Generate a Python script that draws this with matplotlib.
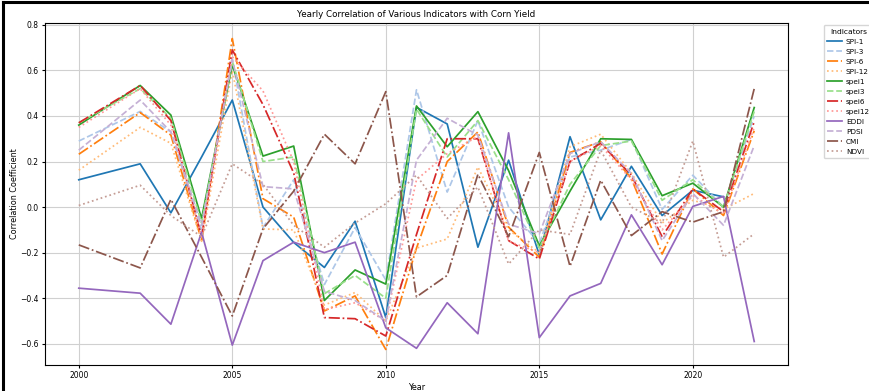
import numpy as np
import matplotlib
matplotlib.use("Agg")
import matplotlib.pyplot as plt
from matplotlib.lines import Line2D

nan = np.nan

# anni (il 2001 manca)
years = [2000, 2002, 2003, 2004, 2005, 2006, 2007, 2008, 2009, 2010, 2011,
         2012, 2013, 2014, 2015, 2016, 2017, 2018, 2019, 2020, 2021, 2022]

spi1 = [0.12, 0.19, -0.025, 0.22, 0.47, 0.0, -0.155, -0.265, -0.062, -0.485, 0.438,
        0.365, -0.176, 0.206, -0.21, 0.309, -0.056, 0.179, -0.037, 0.074, 0.045, nan]
spi3 = [0.29, 0.42, 0.33, -0.1, 0.65, -0.09, 0.12, -0.34, -0.09, -0.32, 0.515,
        0.066, 0.38, 0.0, -0.16, 0.22, 0.25, 0.297, -0.01, 0.14, 0.0, 0.40]
spi6 = [0.232, 0.415, 0.316, -0.147, 0.74, 0.037, -0.044, -0.456, -0.39, -0.625, -0.18,
        0.2, 0.33, -0.088, -0.22, 0.24, 0.287, 0.125, -0.206, 0.08, -0.037, 0.335]
spi12 = [0.162, 0.35, 0.28, -0.15, 0.6, -0.096, -0.1, -0.43, -0.375, -0.5, -0.18,
         -0.14, 0.176, -0.1, -0.2, 0.265, 0.32, 0.15, -0.07, 0.03, -0.01, 0.06]
spei1 = [0.36, 0.534, 0.404, -0.05, 0.625, 0.224, 0.268, -0.41, -0.276, -0.338, 0.444,
         0.265, 0.419, 0.16, -0.17, 0.07, 0.30, 0.297, 0.05, 0.105, 0.0, 0.437]
spei3 = [0.37, 0.52, 0.39, -0.07, 0.64, 0.2, 0.22, -0.38, -0.3, -0.4, 0.43,
         0.22, 0.38, 0.12, -0.18, 0.1, 0.27, 0.29, 0.03, 0.12, 0.0, 0.42]
spei6 = [0.37, 0.534, 0.38, -0.13, 0.69, 0.45, 0.15, -0.485, -0.49, -0.566, -0.12,
         0.30, 0.30, -0.147, -0.228, 0.2, 0.28, 0.14, -0.13, 0.08, -0.02, 0.375]
spei12 = [0.35, 0.52, 0.36, -0.13, 0.66, 0.51, 0.2, -0.45, -0.42, -0.5, 0.12,
          0.235, 0.31, -0.15, -0.2, 0.2, 0.27, 0.12, -0.1, 0.05, -0.03, 0.35]
eddi = [-0.356, -0.378, -0.514, -0.11, -0.606, -0.235, -0.154, -0.2, -0.154, -0.53, -0.62,
        -0.42, -0.556, 0.326, -0.573, -0.39, -0.335, -0.034, -0.253, 0.003, 0.047, -0.59]
pdsi = [0.25, 0.47, 0.33, -0.08, 0.647, 0.09, 0.08, -0.37, -0.41, -0.5, 0.206,
        0.39, 0.316, -0.075, -0.117, 0.235, 0.287, 0.147, -0.147, 0.06, -0.08, 0.27]
cmi = [-0.166, -0.267, 0.034, -0.22, -0.478, -0.095, 0.07, 0.32, 0.19, 0.507, -0.394,
       -0.30, 0.144, -0.13, 0.24, -0.26, 0.118, -0.125, -0.02, -0.066, -0.02, 0.52]
ndvi = [0.007, 0.096, -0.037, -0.13, 0.19, 0.1, -0.08, -0.176, -0.07, 0.015, 0.14,
        -0.05, 0.088, -0.25, -0.1, -0.12, 0.25, 0.0, -0.07, 0.29, -0.22, -0.117]

labels = ['SPI-1', 'SPI-3', 'SPI-6', 'SPI-12', 'spei1', 'spei3', 'spei6', 'spei12',
          'EDDI', 'PDSI', 'CMI', 'NDVI']
serie = [spi1, spi3, spi6, spi12, spei1, spei3, spei6, spei12, eddi, pdsi, cmi, ndvi]

colori = plt.get_cmap('tab20').colors
stili = ['-', '--', '-.', ':']

fig = plt.figure(figsize=(8.7, 3.91), dpi=100)
ax = fig.add_axes([45/870, 1-365/391, (788-45)/870, (365-23)/391])

for i, (lab, s) in enumerate(zip(labels, serie)):
    ax.plot(years, s, color=colori[i], linestyle=stili[i % 4], linewidth=1.25, label=lab)

ax.set_title('Yearly Correlation of Various Indicators with Corn Yield', fontsize=6.3, pad=4)
ax.set_xlabel('Year', fontsize=5.8, labelpad=2)
ax.set_ylabel('Correlation Coefficient', fontsize=5.8, labelpad=1)
ax.tick_params(labelsize=5.5, length=2.5, pad=2)
ax.grid(True, color='#d0d0d0', linewidth=0.8)
ax.legend(title='Indicators', bbox_to_anchor=(1.043, 1.005), loc='upper left',
          fontsize=5.2, title_fontsize=5.4, labelspacing=0.55, handlelength=2.0,
          handletextpad=0.6, borderpad=0.5)

# cornice nera dello screenshot
fig.add_artist(Line2D([0.004, 0.004], [0, 0.994], transform=fig.transFigure, color='black', linewidth=2.2))
fig.add_artist(Line2D([0.004, 1], [0.994, 0.994], transform=fig.transFigure, color='black', linewidth=2.2))

fig.savefig('out.png', dpi=100)
